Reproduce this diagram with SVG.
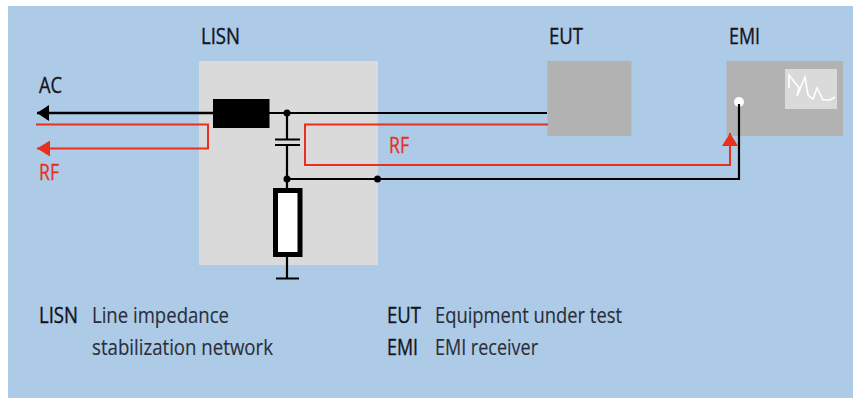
<svg xmlns="http://www.w3.org/2000/svg" width="853" height="398" viewBox="0 0 853 398">
<style>
text{font-family:"Open Sans","Noto Sans",sans-serif;font-size:21px;fill:#14141c;stroke:#14141c;stroke-width:.35}
.d{stroke:#2a2e3a;stroke-width:.15;fill:#2a2e3a}
.r{fill:#e8301c;stroke:#e8301c;stroke-width:.3}
.k{fill:none;stroke:#000;stroke-width:2.200}
.rl{fill:none;stroke:#e8301c;stroke-width:2}
</style>
<defs>
<marker id="ah" markerUnits="userSpaceOnUse" markerWidth="12" markerHeight="16" refX="12" refY="8" orient="auto"><path d="M0 0L12 8L0 16Z" fill="#000"/></marker>
<marker id="ar" markerUnits="userSpaceOnUse" markerWidth="13" markerHeight="16" refX="13" refY="8" orient="auto"><path d="M0 0L13 8L0 16Z" fill="#e8301c"/></marker>
</defs>
<rect width="853" height="398" fill="#fff"/>
<rect x="8" y="6" width="845" height="392" fill="#adcbe7"/>
<g id="lisn"><rect x="199" y="61" width="179" height="204" fill="#dadada"/><text x="201" y="44" textLength="39" lengthAdjust="spacingAndGlyphs">LISN</text></g>
<g id="eut"><rect x="547.500" y="61" width="84" height="75" fill="#b2b2b2"/><text x="549" y="44" textLength="34" lengthAdjust="spacingAndGlyphs">EUT</text></g>
<g id="emi"><rect x="726.500" y="61" width="116.500" height="75" fill="#b2b2b2"/><rect x="785" y="69" width="52" height="40" fill="#dadada"/><path d="M789 88V75L799 88L797 96L805 77L808 95L813 99L817 88L823 100H830L835 97" fill="none" stroke="#fff" stroke-width="1.600"/><circle cx="739" cy="102" r="5" fill="#fff"/><text x="729" y="44" textLength="31" lengthAdjust="spacingAndGlyphs">EMI</text></g>
<g id="connectors">
<path class="k" style="stroke-width:2.600" d="M213 113H37" marker-end="url(#ah)"/>
<path class="k" d="M269 113H547M287 113V139M287 145V188M287 179H739V104M287 257V278M276 278.500H299"/>
<path class="k" d="M275 139.500H300M275 145H300"/>
<path class="rl" d="M36 124.500H208V148.500H37" marker-end="url(#ar)"/>
<path class="rl" d="M548 124.500H305V165H730V133" marker-end="url(#ar)"/>
</g>
<circle cx="287" cy="113" r="3.500"/><circle cx="287" cy="179" r="3.500"/><circle cx="377.500" cy="179" r="3.500"/>
<g id="inductor"><rect x="213" y="99" width="56.500" height="29" fill="#000"/></g>
<g id="resistor"><rect x="275.500" y="190.500" width="24.500" height="64" fill="#fff" stroke="#000" stroke-width="5"/></g>
<g id="labels">
<text x="39" y="93" textLength="23" lengthAdjust="spacingAndGlyphs">AC</text>
<text class="r" x="39" y="180" textLength="20" lengthAdjust="spacingAndGlyphs">RF</text>
<text class="r" x="389" y="153" textLength="20" lengthAdjust="spacingAndGlyphs">RF</text>
<text x="39" y="323" textLength="39" lengthAdjust="spacingAndGlyphs">LISN</text>
<text class="d" x="92" y="323" textLength="137" lengthAdjust="spacingAndGlyphs">Line impedance</text>
<text class="d" x="92" y="355" textLength="181" lengthAdjust="spacingAndGlyphs">stabilization network</text>
<text x="387" y="323" textLength="34" lengthAdjust="spacingAndGlyphs">EUT</text>
<text class="d" x="435" y="323" textLength="187" lengthAdjust="spacingAndGlyphs">Equipment under test</text>
<text x="387" y="355" textLength="31" lengthAdjust="spacingAndGlyphs">EMI</text>
<text class="d" x="435" y="355" textLength="103" lengthAdjust="spacingAndGlyphs">EMI receiver</text>
</g>
</svg>
